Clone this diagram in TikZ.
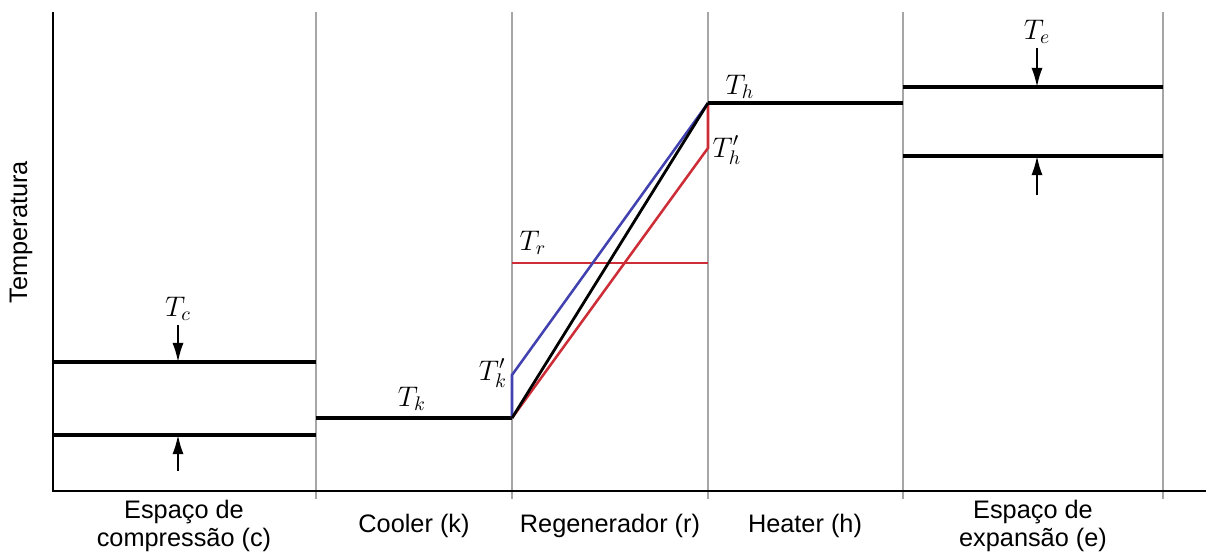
\documentclass[tikz,border=0pt]{standalone}
\usepackage{fontspec}
\setsansfont{Liberation Sans}
\usetikzlibrary{arrows.meta}
\definecolor{hotred}{RGB}{205,45,55}
\definecolor{coldblue}{RGB}{65,65,175}
\tikzset{
  axis/.style={line width=1.5pt},
  divider/.style={gray!70, line width=0.8pt},
  level/.style={line width=2.2pt},
  tip/.style={line width=1.4pt, -{Latex[length=4.8mm,width=2.8mm]}},
  templabel/.style={font=\Large, scale=1.4},
  zonelabel/.style={font=\sffamily\fontsize{18}{20.5}\selectfont, align=center}
}
\begin{document}
\begin{tikzpicture}[x=0.025cm, y=-0.025cm]
    \useasboundingbox (0,0) rectangle (1206,555);
    % zone limits
    \coordinate (O) at (53,491);
    \coordinate (top) at (53,12);
    \coordinate (right) at (1206,491);
    \foreach \x/\n in {316/ck, 512/kr, 708/rh, 903/he, 1163/end} {
        \coordinate (\n top) at (\x,12);
        \coordinate (\n bot) at (\x,499);
        \draw[divider] (\n top) to (\n bot);
    }
    \draw[axis] (top) to (O) to (right);
    % compression space
    \coordinate (c1) at (53,362);
    \coordinate (c2) at (316,362);
    \coordinate (c3) at (53,435);
    \coordinate (c4) at (316,435);
    \draw[level] (c1) to (c2);
    \draw[level] (c3) to (c4);
    \coordinate (cdown) at (178,325);
    \coordinate (cdownend) at (178,362);
    \coordinate (cup) at (178,471);
    \coordinate (cupend) at (178,435);
    \draw[tip] (cdown) to (cdownend);
    \draw[tip] (cup) to (cupend);
    \node[templabel] (Tc) at (178,309) {$T_c$};
    % cooler
    \coordinate (k1) at (316,418);
    \coordinate (k2) at (512,418);
    \draw[level] (k1) to (k2);
    \node[templabel] (Tk) at (412,399) {$T_k$};
    % regenerator
    \coordinate (kp) at (512,375);
    \coordinate (h1) at (708,103);
    \coordinate (hp) at (708,148);
    \coordinate (r1) at (512,263);
    \coordinate (r2) at (708,263);
    \draw[hotred, line width=1.7pt] (r1) to (r2);
    \draw[coldblue, line width=1.8pt] (k2) to (kp) to (h1);
    \draw[hotred, line width=1.8pt] (k2) to (hp) to (h1);
    \draw[line width=2pt] (k2) to (h1);
    \node[templabel] (Tr) at (533,243) {$T_r$};
    \node[templabel] (Tkp) at (493,373) {$T'_k$};
    \node[templabel] (Thp) at (727,150) {$T'_h$};
    % heater
    \coordinate (h2) at (903,103);
    \draw[level] (h1) to (h2);
    \node[templabel] (Th) at (740,87) {$T_h$};
    % expansion space
    \coordinate (e1) at (903,87);
    \coordinate (e2) at (1163,87);
    \coordinate (e3) at (903,156);
    \coordinate (e4) at (1163,156);
    \draw[level] (e1) to (e2);
    \draw[level] (e3) to (e4);
    \coordinate (edown) at (1037,48);
    \coordinate (edownend) at (1037,87);
    \coordinate (eup) at (1037,195);
    \coordinate (eupend) at (1037,156);
    \draw[tip] (edown) to (edownend);
    \draw[tip] (eup) to (eupend);
    \node[templabel] (Te) at (1037,32) {$T_e$};
    % labels
    \node[zonelabel, rotate=90] (temp) at (21,232) {Temperatura};
    \node[zonelabel] (zc) at (184,526) {Espaço de\\compressão (c)};
    \node[zonelabel] (zk) at (414,526) {Cooler (k)};
    \node[zonelabel] (zr) at (610,526) {Regenerador (r)};
    \node[zonelabel] (zh) at (805,526) {Heater (h)};
    \node[zonelabel] (ze) at (1033,526) {Espaço de\\expansão (e)};
\end{tikzpicture}
\end{document}
